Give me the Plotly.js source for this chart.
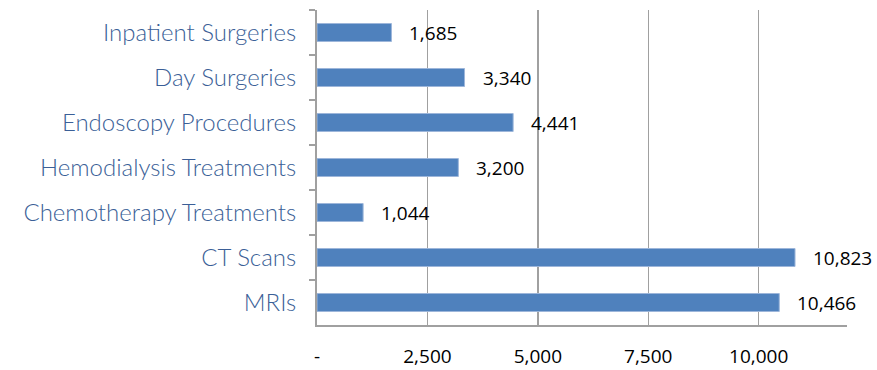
<!DOCTYPE html>
<html>
<head>
<meta charset="utf-8">
<script src="https://cdn.plot.ly/plotly-3.0.1.min.js"></script>
<style>html,body{margin:0;padding:0;background:#fff;}#chart{width:877px;height:370px;}</style>
</head>
<body>
<div id="chart"></div>
<script>
const categories = ["Inpatient Surgeries", "Day Surgeries", "Endoscopy Procedures", "Hemodialysis Treatments", "Chemotherapy Treatments", "CT Scans", "MRIs"];
const values = [1685, 3340, 4441, 3200, 1044, 10823, 10466];
const xTickVals = [0, 2500, 5000, 7500, 10000];
const xTickText = ["-", "2,500", "5,000", "7,500", "10,000"];

const fmt = v => v.toLocaleString("en-US");

const trace = {
  type: "bar",
  orientation: "h",
  y: categories,
  x: values,
  width: 0.4,
  marker: {color: "#4F81BD", line: {color: "#9DB6DA", width: 1}},
  hoverinfo: "none"
};

const annotations = categories.map((c, i) => ({
  x: values[i], y: c, xref: "x", yref: "y",
  text: fmt(values[i]), showarrow: false,
  xanchor: "left", xshift: 16, yshift: 0,
  font: {family: "Open Sans, Liberation Sans, sans-serif", size: 19, color: "#000"}
}));

const layout = {
  width: 877, height: 370,
  margin: {l: 317, r: 30, t: 10, b: 45, pad: 0},
  paper_bgcolor: "#fff", plot_bgcolor: "#fff",
  showlegend: false,
  xaxis: {
    range: [0, 12000],
    tickvals: xTickVals, ticktext: xTickText,
    showgrid: true, gridcolor: "#A0A0A0", gridwidth: 1.5,
    zeroline: false,
    showline: true, linecolor: "#A0A0A0", linewidth: 2,
    ticks: "", ticklabelstandoff: 13,
    tickfont: {family: "Open Sans, Liberation Sans, sans-serif", size: 19, color: "#000"}
  },
  yaxis: {
    type: "category",
    autorange: "reversed",
    showgrid: false, zeroline: false,
    showline: true, linecolor: "#A0A0A0", linewidth: 2,
    ticks: "outside", tickson: "boundaries", ticklen: 6, tickcolor: "#A0A0A0", tickwidth: 2,
    ticklabelstandoff: 14,
    tickfont: {family: "Lato, sans-serif", size: 24, weight: 300, color: "#3B5F97"}
  },
  annotations: annotations
};

Plotly.newPlot("chart", [trace], layout, {displayModeBar: false, staticPlot: true});
</script>
</body>
</html>
